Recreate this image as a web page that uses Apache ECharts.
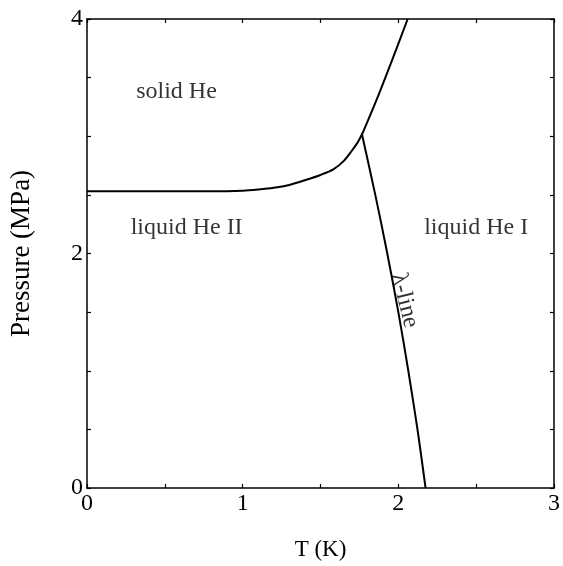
<!DOCTYPE html>
<html>
<head>
<meta charset="utf-8">
<script src="https://cdn.jsdelivr.net/npm/echarts@6/dist/echarts.min.js"></script>
<style>html,body{margin:0;padding:0;background:#fff}#c{width:563px;height:566px}</style>
</head>
<body>
<div id="c"></div>
<script>
// Melting curve: solid He / liquid He II (T in K, P in MPa)
const meltingII = [[0,2.53],[0.2,2.53],[0.4,2.53],[0.6,2.53],[0.8,2.53],[1.0,2.535],[1.1,2.545],[1.2,2.56],[1.3,2.585],[1.4,2.625],[1.5,2.67],[1.585,2.72],[1.65,2.79],[1.70,2.874],[1.74,2.95],[1.77,3.025]];
// Melting curve: solid He / liquid He I
const meltingI = [[1.77,3.025],[1.86,3.31],[1.96,3.65],[2.06,4.0]];
// Lambda line
const lambdaLine = [[1.765,3.025],[1.852,2.5],[1.929,2.0],[2.0,1.5],[2.064,1.0],[2.123,0.5],[2.175,0]];
// Region annotations
const annotations = [
  {name:'solid He', value:[0.575,3.38], rotate:0},
  {name:'liquid He II', value:[0.64,2.22], rotate:0},
  {name:'liquid He I', value:[2.50,2.22], rotate:0},
  {name:'λ-line', value:[2.04,1.60], rotate:-76}
];
const xLabels = [0,1,2,3];
const yLabels = [0,2,4];

const font = 'Liberation Serif';
const black = '#000';
const chart = echarts.init(document.getElementById('c'), null, {renderer:'canvas'});
const axisCommon = {
  type:'value', interval:0.5,
  axisLine:{show:true, onZero:false, lineStyle:{color:black, width:1.5}},
  axisTick:{show:true, inside:true, length:4, lineStyle:{color:black, width:1.2}},
  splitLine:{show:false}
};
chart.setOption({
  animation:false,
  backgroundColor:'#fff',
  grid:{left:85, right:8, top:19, bottom:78},
  xAxis:[
    Object.assign({}, axisCommon, {min:0, max:3, position:'bottom',
      axisLabel:{color:black, fontFamily:font, fontSize:24, margin:4,
        formatter:v => xLabels.includes(v) ? String(v) : ''},
      name:'T (K)', nameLocation:'middle', nameGap:50,
      nameTextStyle:{color:black, fontFamily:font, fontSize:23}}),
    Object.assign({}, axisCommon, {min:0, max:3, position:'top', axisLabel:{show:false}})
  ],
  yAxis:[
    Object.assign({}, axisCommon, {min:0, max:4, position:'left',
      axisLabel:{color:black, fontFamily:font, fontSize:24, margin:4,
        formatter:v => yLabels.includes(v) ? String(v) : ''},
      name:'Pressure (MPa)', nameLocation:'middle', nameGap:52,
      nameTextStyle:{color:black, fontFamily:font, fontSize:27}}),
    Object.assign({}, axisCommon, {min:0, max:4, position:'right', axisLabel:{show:false}})
  ],
  series:[
    {type:'line', data:meltingII, smooth:0.3, symbol:'none', lineStyle:{color:black, width:2}},
    {type:'line', data:meltingI, smooth:0.3, symbol:'none', lineStyle:{color:black, width:2}},
    {type:'line', data:lambdaLine, smooth:0.3, symbol:'none', lineStyle:{color:black, width:2}},
    {type:'scatter', symbolSize:0, data:annotations.map(a => ({value:a.value, label:{
        show:true, position:'inside', formatter:a.name, rotate:a.rotate,
        color:black, fontFamily:font, fontSize:24}})), silent:true}
  ]
});
</script>
</body>
</html>
